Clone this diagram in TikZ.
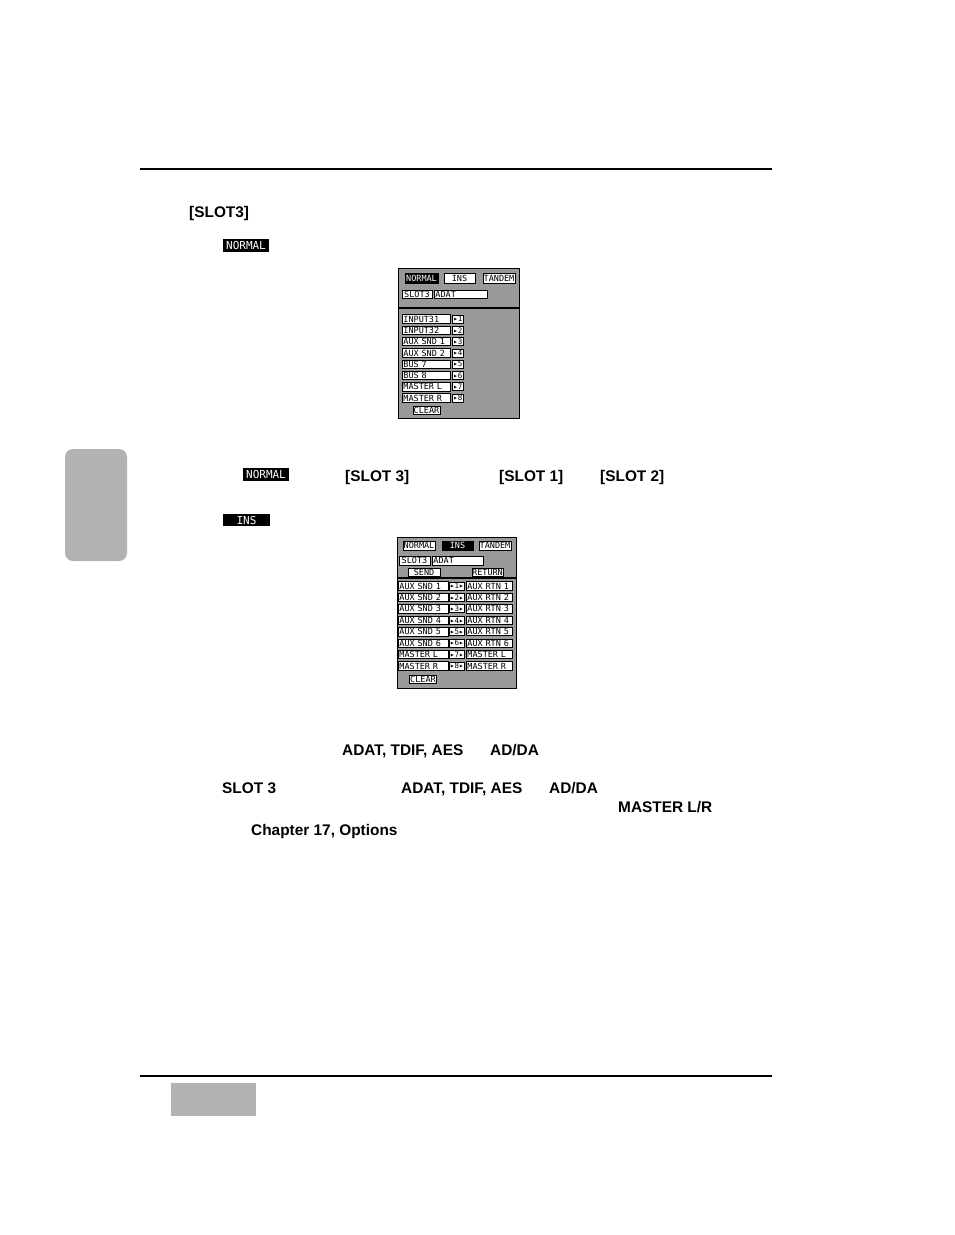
\documentclass[tikz,border=0pt]{standalone}
\usepackage{fontspec}
\setmainfont{Liberation Sans}
\setmonofont{DejaVu Sans Mono}
\usepackage{tikz}
\definecolor{tabgrey}{gray}{0.70}
\definecolor{dithergrey}{gray}{0.60}
\tikzset{
  bodytext/.style={anchor=base west,inner sep=0pt,font=\fontsize{15.4}{18}\selectfont\bfseries},
  invlabel/.style={fill=black,text=white,inner sep=0pt,font=\fontsize{11}{11}\selectfont\ttfamily},
  lcdtab/.style={draw=black,fill=white,line width=0.8pt,inner sep=0pt,font=\fontsize{8.5}{8.5}\selectfont\ttfamily},
  lcdtabon/.style={draw=black,fill=black,text=white,line width=0.8pt,inner sep=0pt,font=\fontsize{8.5}{8.5}\selectfont\ttfamily},
  lcdkey/.style={draw=black,fill=white,line width=0.8pt,inner sep=1pt,align=left,font=\fontsize{8.5}{8.5}\selectfont\ttfamily},
  lcdarrow/.style={draw=black,fill=white,line width=0.8pt,inner sep=0pt,font=\fontsize{7.5}{7.5}\selectfont\ttfamily}
}
\begin{document}
\begin{tikzpicture}[x=1pt,y=-1pt]
  \useasboundingbox (0,0) rectangle (954,1235);

  %page rules and grey tabs
  \draw[line width=1.2pt] (140,169) -- (772,169);
  \draw[line width=1.2pt] (140,1076) -- (772,1076);
  \fill[tabgrey,rounded corners=8pt] (65,449) rectangle (127,561);
  \fill[tabgrey] (171,1083) rectangle (256,1116);

  %text lines
  \node[bodytext] (slothead) at (189,217) {[SLOT3]};
  \node[invlabel,minimum width=46,minimum height=13] (normone) at (246,245.5) {NORMAL};
  \node[invlabel,minimum width=46,minimum height=13] (normtwo) at (266,474.5) {NORMAL};
  \node[bodytext] (slotc) at (345,481) {[SLOT 3]};
  \node[bodytext] (slota) at (499,481) {[SLOT 1]};
  \node[bodytext] (slotb) at (600,481) {[SLOT 2]};
  \node[invlabel,minimum width=47,minimum height=12] (insone) at (246.5,520) {INS};
  \node[bodytext] (fmtone) at (342,755) {ADAT, TDIF, AES};
  \node[bodytext] (adone) at (490,755) {AD/DA};
  \node[bodytext] (slotthree) at (222,793) {SLOT 3};
  \node[bodytext] (fmttwo) at (401,793) {ADAT, TDIF, AES};
  \node[bodytext] (adtwo) at (549,793) {AD/DA};
  \node[bodytext] (masterlr) at (618,812) {MASTER L/R};
  \node[bodytext] (chapref) at (251,835) {Chapter 17, Options};

  %NORMAL screen
  \draw[fill=dithergrey,line width=1pt] (398,268) rectangle (519,418);
  \node[lcdtabon,minimum width=33,minimum height=10] (nrmtaba) at (421.5,278) {NORMAL};
  \node[lcdtab,minimum width=31,minimum height=10] (nrmtabb) at (459.5,278) {INS};
  \node[lcdtab,minimum width=32,minimum height=10] (nrmtabc) at (499,278) {TANDEM};
  \node[lcdtab,minimum width=30,minimum height=8] (nrmslot) at (417,294) {SLOT3};
  \node[lcdkey,text width=51,minimum height=8,anchor=west] (nrmcard) at (434,294) {ADAT};
  \draw[line width=1.5pt] (398,308) -- (519,308);
  \foreach \n/\lbl in {1/INPUT31,2/INPUT32,3/AUX SND 1,4/AUX SND 2,5/BUS 7,6/BUS 8,7/MASTER L,8/MASTER R} {
    \node[lcdkey,text width=46,minimum height=8,anchor=west] (nrmch\n) at (402,{319+11.3*(\n-1)}) {\lbl};
    \node[lcdarrow,minimum width=11,minimum height=8,anchor=west] (nrmout\n) at (452,{319+11.3*(\n-1)}) {▸\n};
  }
  \node[lcdtab,minimum width=27,minimum height=8] (nrmclear) at (426.5,410.5) {CLEAR};

  %INS screen
  \draw[fill=dithergrey,line width=1pt] (397,537) rectangle (516,688);
  \node[lcdtab,minimum width=32,minimum height=9] (instaba) at (419,545.5) {NORMAL};
  \node[lcdtabon,minimum width=31,minimum height=9] (instabb) at (457.5,545.5) {INS};
  \node[lcdtab,minimum width=32,minimum height=9] (instabc) at (495,545.5) {TANDEM};
  \node[lcdtab,minimum width=31,minimum height=9] (insslot) at (414.5,560.5) {SLOT3};
  \node[lcdkey,text width=49,minimum height=9,anchor=west] (inscard) at (432,560.5) {ADAT};
  \node[lcdtab,minimum width=32,minimum height=8] (inssend) at (424,572) {SEND};
  \node[lcdtab,minimum width=31,minimum height=8] (insreturn) at (487.5,572) {RETURN};
  \draw[line width=1.5pt] (397,578) -- (516,578);
  \foreach \n/\snd/\rtn in {1/AUX SND 1/AUX RTN 1,2/AUX SND 2/AUX RTN 2,3/AUX SND 3/AUX RTN 3,
      4/AUX SND 4/AUX RTN 4,5/AUX SND 5/AUX RTN 5,6/AUX SND 6/AUX RTN 6,7/MASTER L/MASTER L,8/MASTER R/MASTER R} {
    \node[lcdkey,text width=48,minimum height=8,anchor=west] (inssnd\n) at (398,{586+11.43*(\n-1)}) {\snd};
    \node[lcdarrow,minimum width=15,minimum height=8,anchor=west] (insio\n) at (449,{586+11.43*(\n-1)}) {▸\n▸};
    \node[lcdkey,text width=44,minimum height=8,anchor=west] (insrtn\n) at (466,{586+11.43*(\n-1)}) {\rtn};
  }
  \node[lcdtab,minimum width=27,minimum height=8] (insclear) at (423,679) {CLEAR};
\end{tikzpicture}
\end{document}
